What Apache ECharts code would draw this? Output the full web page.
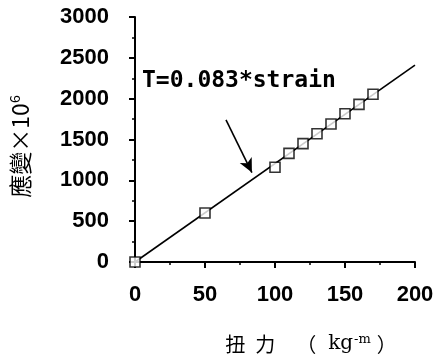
<!DOCTYPE html>
<html><head><meta charset="utf-8">
<script src="https://cdn.jsdelivr.net/npm/echarts@6/dist/echarts.min.js"></script>
<style>html,body{margin:0;padding:0;background:#fff}#c{width:438px;height:359px}</style>
</head><body><div id="c"></div>
<script>
const torque = [0, 50, 100, 110, 120, 130, 140, 150, 160, 170];
const strain = [0, 600, 1160, 1330, 1450, 1570, 1690, 1815, 1930, 2055];
const fitX = [0, 200];
const fitY = [0, 2410];
const xTicks = [0, 50, 100, 150, 200];
const yTicks = [0, 500, 1000, 1500, 2000, 2500, 3000];
const annotText = 'T=0.083*strain';
const annotAt = [5, 2210];
const arrowFrom = [65, 1740];
const arrowTo = [83.5, 1095];
const xName = '{a1|扭}{a2|力}{p1|（}{k|kg}{s|-m}{p2|）}';
const yName = '應變×10{s|6}';

const chart = echarts.init(document.getElementById('c'), null, {renderer: 'canvas'});
const tickFont = {color: '#000', fontSize: 22, fontWeight: 'bold', fontFamily: 'Liberation Sans',
  formatter: v => String(v)};
const cjk = 'Noto Sans CJK TC';
chart.setOption({
  animation: false,
  grid: {left: 135, right: 23, top: 17, bottom: 96.5, containLabel: false},
  xAxis: {
    type: 'value', min: xTicks[0], max: xTicks[xTicks.length - 1], interval: 50,
    axisLine: {show: true, onZero: false, lineStyle: {color: '#000', width: 2}},
    axisTick: {show: true, length: 6, lineStyle: {color: '#000', width: 2}},
    minorTick: {show: true, splitNumber: 2, length: 3, lineStyle: {color: '#000', width: 1.5}},
    splitLine: {show: false},
    axisLabel: Object.assign({margin: 22}, tickFont),
    name: xName, nameLocation: 'middle', nameGap: 71,
    nameTextStyle: {color: '#000', fontSize: 20, fontFamily: cjk, padding: [0, 0, 0, 72],
      rich: {
        a1: {fontSize: 20, fontFamily: cjk, padding: [0, 10, 0, 0]},
        a2: {fontSize: 20, fontFamily: cjk, padding: [0, 21, 0, 0]},
        p1: {fontSize: 20, fontFamily: cjk},
        k: {fontSize: 20, fontFamily: 'DejaVu Serif', padding: [0, 0, 0, 12]},
        s: {fontSize: 13, fontFamily: 'DejaVu Serif', verticalAlign: 'top', padding: [0, 0, 9, 1]},
        p2: {fontSize: 20, fontFamily: cjk, padding: [0, 0, 0, 6]}
      }}
  },
  yAxis: {
    type: 'value', min: yTicks[0], max: yTicks[yTicks.length - 1], interval: 500,
    axisLine: {show: true, onZero: false, lineStyle: {color: '#000', width: 2}},
    axisTick: {show: true, length: 6, lineStyle: {color: '#000', width: 2}},
    minorTick: {show: true, splitNumber: 2, length: 3, lineStyle: {color: '#000', width: 1.5}},
    splitLine: {show: false},
    axisLabel: Object.assign({margin: 26}, tickFont),
    name: yName, nameLocation: 'middle', nameGap: 103,
    nameTextStyle: {color: '#000', fontSize: 23, fontFamily: cjk, padding: [0, 14, 0, 0],
      rich: {s: {fontSize: 14, fontFamily: cjk, verticalAlign: 'top', padding: [0, 0, 10, 0]}}}
  },
  series: [
    {
      type: 'line', data: fitX.map((x, i) => [x, fitY[i]]), symbol: 'none',
      lineStyle: {color: '#000', width: 1.6}, z: 2,
      markLine: {
        silent: true, symbol: ['none', 'arrow'], symbolSize: [10, 14],
        lineStyle: {color: '#000', width: 1.6, type: 'solid'},
        label: {show: false},
        data: [[{coord: arrowFrom}, {coord: arrowTo}]]
      },
      markPoint: {
        symbol: 'circle', symbolSize: 0,
        label: {show: true, position: 'right', distance: 0, formatter: annotText,
          color: '#000', fontSize: 23, fontWeight: 'bold', fontFamily: 'DejaVu Sans Mono'},
        data: [{coord: annotAt}]
      }
    },
    {
      type: 'scatter', data: torque.map((x, i) => [x, strain[i]]),
      symbol: 'rect', symbolSize: 10,
      itemStyle: {color: '#fff', borderColor: '#000', borderWidth: 1.6}, z: 3
    }
  ]
});
</script></body></html>
